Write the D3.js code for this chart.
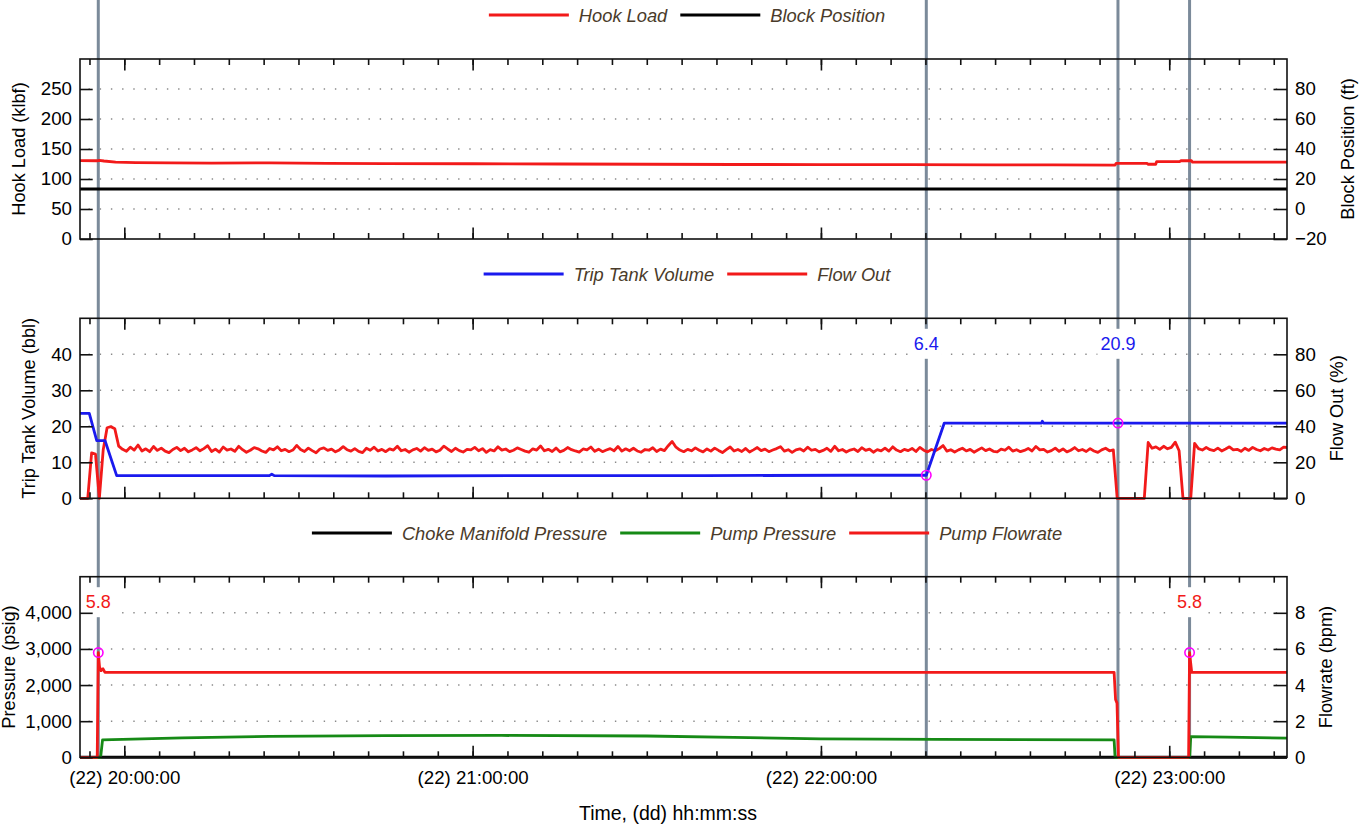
<!DOCTYPE html>
<html>
<head>
<meta charset="utf-8">
<script src="https://cdn.jsdelivr.net/npm/d3@7"></script>
<style>
  body { margin: 0; background: #ffffff; }
  svg { display: block; font-family: "Liberation Sans", Arial, Helvetica, sans-serif; }
</style>
</head>
<body>
<svg id="chart" width="1364" height="829"></svg>
<script>
// ---- time base -------------------------------------------------------------
const dayOfMonth = "22";
const timeDomain = ["19:52:22", "23:20:17"];
const cursorTimes = ["19:55:31", "22:18:09", "22:51:10", "23:03:30"];

// ---- axis ticks ------------------------------------------------------------
const hookLoadTicks = [0, 50, 100, 150, 200, 250];
const blockPosTicks = [-20, 0, 20, 40, 60, 80];
const tripTankTicks = [0, 10, 20, 30, 40];
const flowOutTicks = [0, 20, 40, 60, 80];
const pressureTicks = [0, 1000, 2000, 3000, 4000];
const flowrateTicks = [0, 2, 4, 6, 8];

// ---- series (time, value) --------------------------------------------------
const hookLoad = [
  ["19:52:22", 130.6], ["19:55:20", 130.4], ["19:55:40", 131.0], ["19:56:30", 130.0],
  ["19:58:30", 128.2], ["20:02:00", 127.4], ["20:08:00", 127.0], ["20:15:00", 126.6],
  ["20:25:00", 126.8], ["20:35:00", 126.0], ["20:45:00", 125.6], ["21:00:00", 125.4],
  ["21:15:00", 125.0], ["21:30:00", 124.6], ["21:45:00", 124.2], ["22:00:00", 124.0],
  ["22:15:00", 123.8], ["22:30:00", 123.6], ["22:40:00", 123.4], ["22:50:40", 123.2],
  ["22:50:50", 126.0], ["22:56:10", 126.0], ["22:56:20", 124.6], ["22:57:40", 124.6],
  ["22:57:50", 129.0], ["23:01:50", 129.0], ["23:02:00", 130.6], ["23:03:50", 130.4],
  ["23:04:00", 128.2], ["23:12:00", 128.0], ["23:20:17", 128.0]
];
const blockPosition = [["19:52:22", 13.3], ["23:20:17", 13.3]];

const tripTankVolume = [
  ["19:52:22", 23.6], ["19:53:58", 23.6], ["19:55:15", 16.0], ["19:56:41", 16.0],
  ["19:58:41", 6.3], ["20:10:00", 6.3], ["20:25:00", 6.3], ["20:25:24", 6.7],
  ["20:25:50", 6.3], ["20:45:00", 6.2], ["21:10:00", 6.3], ["21:40:00", 6.3],
  ["22:05:00", 6.4], ["22:18:09", 6.4], ["22:21:15", 20.9], ["22:38:00", 20.9],
  ["22:38:08", 21.4], ["22:38:20", 20.9], ["22:51:10", 20.9], ["23:20:17", 20.9]
];

// Flow Out is logged every 40 s from the start of the window
const flowOutStart = "19:52:22";
const flowOutStepSec = 40;
const flowOut = [
  0, 0, 0, 25.2, 24.6, 0, 27.0, 39.2, 39.8, 38.6,
  29.0, 27.2, 26.1, 28.4, 26.8, 29.6, 26.3, 27.5, 25.9, 28.8,
  26.6, 27.9, 26.2, 25.4, 27.1, 28.3, 26.5, 27.8, 25.8, 26.9,
  28.1, 26.4, 27.6, 29.2, 26.0, 27.3, 25.7, 28.5, 26.8, 27.4,
  26.1, 28.9, 27.0, 25.6, 26.7, 28.2, 27.5, 26.3, 25.5, 27.7,
  26.9, 28.6, 26.4, 27.2, 25.9, 26.8, 29.4, 27.1, 26.0, 27.9,
  26.5, 25.3, 27.4, 28.0, 26.6, 27.3, 25.8, 26.9, 28.7, 27.0,
  26.2, 27.6, 26.1, 25.4, 27.8, 26.7, 28.4, 26.3, 27.2, 25.9,
  27.5, 26.8, 28.9, 26.4, 27.1, 25.6, 26.9, 27.7, 26.2, 28.1,
  26.6, 27.3, 25.8, 26.7, 29.0, 27.4, 26.0, 27.8, 26.5, 25.7,
  27.2, 26.9, 28.3, 26.4, 27.6, 25.5, 27.0, 26.3, 28.6, 26.8,
  27.4, 25.9, 26.7, 28.0, 27.1, 26.2, 25.6, 27.5, 26.8, 29.1,
  26.4, 27.2, 26.0, 27.9, 25.8, 26.6, 28.2, 27.0, 26.3, 25.7,
  27.4, 26.9, 28.5, 26.1, 27.3, 25.9, 26.8, 27.6, 26.4, 28.8,
  26.2, 27.5, 26.4, 27.8, 26.3, 25.6, 27.1, 26.7, 28.1, 26.0,
  27.3, 26.5, 29.2, 31.6, 28.4, 26.8, 25.9, 27.2, 26.4, 28.0,
  26.7, 25.8, 27.4, 26.2, 27.9, 26.6, 25.4, 27.0, 28.5, 26.3,
  27.1, 26.0, 27.7, 25.7, 26.9, 28.2, 26.5, 27.3, 25.9, 26.8,
  27.6, 28.7, 26.2, 27.0, 25.5, 26.9, 27.5, 26.3, 28.4, 26.7,
  27.2, 25.8, 26.6, 27.8, 26.1, 28.9, 26.4, 27.1, 25.7, 26.8,
  27.4, 26.0, 28.1, 26.6, 27.3, 25.6, 27.0, 26.4, 27.9, 26.2,
  28.6, 26.8, 25.9, 27.2, 26.5, 27.7, 26.0, 28.3, 26.7, 25.8,
  27.1, 26.4, 27.6, 29.3, 26.2, 27.0, 25.7, 26.9, 27.8, 26.3,
  27.2, 25.6, 26.8, 28.0, 26.5, 27.4, 26.1, 25.8, 27.3, 26.7,
  28.4, 26.2, 27.0, 25.9, 26.6, 27.7, 26.3, 28.8, 26.9, 27.2,
  25.7, 26.5, 27.9, 26.1, 27.4, 25.8, 26.7, 28.2, 26.4, 27.1,
  26.0, 27.6, 26.3, 25.5, 26.9, 27.8, 26.4, 26.9, 0, 0,
  0, 0, 0, 0, 0, 0, 31.0, 27.8, 28.6, 27.2,
  28.9, 27.5, 28.3, 31.2, 26.4, 0, 0, 0, 30.5, 27.6,
  26.8, 28.2, 27.0, 26.5, 27.9, 26.3, 27.4, 28.6, 26.9, 27.2,
  26.1, 27.8, 26.6, 28.3, 27.1, 26.4, 27.7, 26.8, 28.0, 27.3,
  26.9, 28.4, 28.2
];

const chokePressure = [["19:52:22", 0], ["23:20:17", 0]];
const pumpPressure = [
  ["19:52:22", 0], ["19:55:55", 0], ["19:56:15", 480], ["20:10:00", 540],
  ["20:25:00", 580], ["20:45:00", 600], ["21:05:00", 605], ["21:30:00", 590],
  ["21:45:00", 550], ["22:00:00", 510], ["22:20:00", 495], ["22:50:30", 482],
  ["22:50:40", 0], ["23:03:32", 0], ["23:03:42", 575], ["23:10:00", 560],
  ["23:20:17", 530]
];
const pumpFlowrate = [
  ["19:52:22", 0], ["19:55:20", 0], ["19:55:31", 5.8], ["19:55:44", 5.0],
  ["19:55:59", 4.8], ["19:56:20", 4.9], ["19:56:40", 4.7], ["22:50:30", 4.7],
  ["22:50:45", 3.2], ["22:51:00", 3.0], ["22:51:15", 0], ["23:03:20", 0],
  ["23:03:30", 5.8], ["23:03:52", 4.7], ["23:20:17", 4.7]
];

// ---- helpers ---------------------------------------------------------------
const parseT = d3.timeParse("%d %H:%M:%S");
const T = s => parseT(dayOfMonth + " " + s);
const toPoints = arr => arr.map(d => [T(d[0]), d[1]]);
const flowOutPoints = flowOut.map((v, i) =>
  [new Date(T(flowOutStart).getTime() + i * flowOutStepSec * 1000), v]);

const COLORS = {
  red: "#f21a1a", blue: "#1a1aee", green: "#168a16", black: "#000000",
  cursor: "#7b8a9a", marker: "#ff00ff", legendText: "#4a3b2a", text: "#000000"
};
const FONT = { tick: 18.7, legend: 18.3, title: 18.2, timeTitle: 19.5, value: 18 };

const svg = d3.select("#chart");
const plotLeft = 80, plotRight = 1287;
const x = d3.scaleTime().domain(timeDomain.map(T)).range([plotLeft, plotRight]);

const panels = [
  {
    top: 59, bottom: 239, left: [0, 300], right: [-20, 100],
    leftTicks: hookLoadTicks, rightTicks: blockPosTicks,
    leftFmt: d3.format("d"), rightFmt: d3.format("d"),
    leftTitle: "Hook Load (klbf)", rightTitle: "Block Position (ft)",
    leftTitleX: 18.5, rightTitleX: 1348, legendY: 15,
    series: [
      { name: "Hook Load", data: toPoints(hookLoad), axis: "left", color: COLORS.red },
      { name: "Block Position", data: toPoints(blockPosition), axis: "right", color: COLORS.black }
    ]
  },
  {
    top: 318.3, bottom: 498.3, left: [0, 50], right: [0, 100],
    leftTicks: tripTankTicks, rightTicks: flowOutTicks,
    leftFmt: d3.format("d"), rightFmt: d3.format("d"),
    leftTitle: "Trip Tank Volume (bbl)", rightTitle: "Flow Out (%)",
    leftTitleX: 28.5, rightTitleX: 1337, legendY: 274,
    series: [
      { name: "Trip Tank Volume", data: toPoints(tripTankVolume), axis: "left", color: COLORS.blue },
      { name: "Flow Out", data: flowOutPoints, axis: "right", color: COLORS.red }
    ],
    drawOrder: [1, 0]
  },
  {
    top: 576.7, bottom: 757.3, left: [0, 5000], right: [0, 10],
    leftTicks: pressureTicks, rightTicks: flowrateTicks,
    leftFmt: d3.format(","), rightFmt: d3.format("d"),
    leftTitle: "Pressure (psig)", rightTitle: "Flowrate (bpm)",
    leftTitleX: 9, rightTitleX: 1326, legendY: 533,
    series: [
      { name: "Choke Manifold Pressure", data: toPoints(chokePressure), axis: "left", color: COLORS.black },
      { name: "Pump Pressure", data: toPoints(pumpPressure), axis: "left", color: COLORS.green },
      { name: "Pump Flowrate", data: toPoints(pumpFlowrate), axis: "right", color: COLORS.red }
    ]
  }
];

// value markers at the cursors: [panel index, series index, cursor index]
const markers = [[2, 2, 0], [1, 0, 1], [1, 0, 2], [2, 2, 3]];

panels.forEach(p => {
  p.yL = d3.scaleLinear().domain(p.left).range([p.bottom, p.top]);
  p.yR = d3.scaleLinear().domain(p.right).range([p.bottom, p.top]);
});

const defs = svg.append("defs");
panels.forEach((p, i) => {
  defs.append("clipPath").attr("id", "clip" + i)
    .append("rect")
    .attr("x", plotLeft).attr("y", p.top - 3)
    .attr("width", plotRight - plotLeft).attr("height", p.bottom - p.top + 6);
});

// ---- grid ------------------------------------------------------------------
panels.forEach(p => {
  svg.append("g").selectAll("line")
    .data(p.leftTicks.filter(v => v !== p.left[0]))
    .join("line")
    .attr("x1", plotLeft).attr("x2", plotRight)
    .attr("y1", d => p.yL(d)).attr("y2", d => p.yL(d))
    .attr("stroke", "#8a8a8a").attr("stroke-width", 1.4)
    .attr("stroke-dasharray", "1.4 9.8").attr("stroke-dashoffset", -8.5);
});

// ---- cursor lines ----------------------------------------------------------
svg.append("g").selectAll("line")
  .data(cursorTimes.map(T))
  .join("line")
  .attr("x1", d => x(d)).attr("x2", d => x(d))
  .attr("y1", 0).attr("y2", panels[2].bottom)
  .attr("stroke", COLORS.cursor).attr("stroke-width", 3);

// ---- value labels (white backing box interrupts the cursor) ---------------
const markerLayer = svg.append("g");
markers.forEach(([pi, si, ci]) => {
  const p = panels[pi];
  const s = p.series[si];
  const t = T(cursorTimes[ci]);
  const hit = s.data.find(d => +d[0] === +t);
  const g = markerLayer.append("g");
  const txt = g.append("text")
    .attr("x", x(t)).attr("y", p.top + 25.5)
    .attr("text-anchor", "middle").attr("dominant-baseline", "central")
    .attr("font-size", FONT.value).attr("fill", s.color)
    .text(d3.format(".1f")(hit[1]));
  const bb = txt.node().getBBox();
  g.insert("rect", "text")
    .attr("x", bb.x - 3).attr("y", bb.y - 5)
    .attr("width", bb.width + 6).attr("height", bb.height + 10)
    .attr("fill", "#ffffff");
  s.marker = s.marker || [];
  s.marker.push([t, hit[1]]);
});

// ---- series ----------------------------------------------------------------
panels.forEach((p, i) => {
  const g = svg.append("g").attr("clip-path", `url(#clip${i})`);
  const order = p.drawOrder || p.series.map((_, k) => k);
  order.forEach(k => {
    const s = p.series[k];
    const yS = s.axis === "left" ? p.yL : p.yR;
    const line = d3.line().x(d => x(d[0])).y(d => yS(d[1]));
    g.append("path").datum(s.data)
      .attr("d", line)
      .attr("fill", "none")
      .attr("stroke", s.color)
      .attr("stroke-width", s.color === COLORS.black ? 3 : 2.8)
      .attr("stroke-linejoin", "round");
  });
});

// ---- frames, axes ----------------------------------------------------------
const minorTicks = d3.timeMinute.every(6).range(x.domain()[0], x.domain()[1]);
const majorTicks = minorTicks.filter(d => d.getMinutes() === 0);
const fmtTime = d3.timeFormat("(%d) %H:%M:%S");

panels.forEach((p, i) => {
  svg.append("rect")
    .attr("x", plotLeft).attr("y", p.top)
    .attr("width", plotRight - plotLeft).attr("height", p.bottom - p.top)
    .attr("fill", "none").attr("stroke", "#111").attr("stroke-width", 1.6);

  const yl = svg.append("g").attr("transform", `translate(${plotLeft},0)`)
    .call(d3.axisLeft(p.yL).tickValues(p.leftTicks).tickFormat(p.leftFmt)
      .tickSize(-12.7).tickPadding(8));
  const yr = svg.append("g").attr("transform", `translate(${plotRight},0)`)
    .call(d3.axisRight(p.yR).tickValues(p.rightTicks).tickFormat(p.rightFmt)
      .tickSize(-13.5).tickPadding(8));

  const xMinorB = svg.append("g").attr("transform", `translate(0,${p.bottom})`)
    .call(d3.axisBottom(x).tickValues(minorTicks).tickSize(-6).tickFormat(""));
  const xMinorT = svg.append("g").attr("transform", `translate(0,${p.top})`)
    .call(d3.axisTop(x).tickValues(minorTicks).tickSize(-6).tickFormat(""));
  const xMajorT = svg.append("g").attr("transform", `translate(0,${p.top})`)
    .call(d3.axisTop(x).tickValues(majorTicks).tickSize(-11.5).tickFormat(""));
  const xMajorB = svg.append("g").attr("transform", `translate(0,${p.bottom})`)
    .call(d3.axisBottom(x).tickValues(majorTicks).tickSize(-11.5).tickPadding(13)
      .tickFormat(i === 2 ? fmtTime : ""));

  [yl, yr, xMinorB, xMinorT, xMajorT, xMajorB].forEach(a => {
    a.select(".domain").remove();
    a.selectAll(".tick line").attr("stroke", "#111").attr("stroke-width", 1.6);
    a.selectAll(".tick text").attr("font-size", FONT.tick).attr("fill", COLORS.text)
      .attr("font-family", "'Liberation Sans', Arial, sans-serif");
  });

  const midY = (p.top + p.bottom) / 2;
  svg.append("text")
    .attr("transform", `translate(${p.leftTitleX},${midY}) rotate(-90)`)
    .attr("text-anchor", "middle").attr("dominant-baseline", "central")
    .attr("font-size", FONT.title).attr("fill", COLORS.text).text(p.leftTitle);
  svg.append("text")
    .attr("transform", `translate(${p.rightTitleX},${midY}) rotate(-90)`)
    .attr("text-anchor", "middle").attr("dominant-baseline", "central")
    .attr("font-size", FONT.title).attr("fill", COLORS.text).text(p.rightTitle);

  // legend centred over the plot
  const lg = svg.append("g");
  let cx = 0;
  p.series.forEach(s => {
    lg.append("line").attr("x1", cx).attr("x2", cx + 80)
      .attr("y1", p.legendY).attr("y2", p.legendY)
      .attr("stroke", s.color).attr("stroke-width", 3);
    cx += 90;
    const t = lg.append("text").attr("x", cx).attr("y", p.legendY)
      .attr("dominant-baseline", "central")
      .attr("font-size", FONT.legend).attr("font-style", "italic")
      .attr("fill", COLORS.legendText).text(s.name);
    cx += t.node().getComputedTextLength() + 13;
  });
  const total = cx - 13;
  lg.attr("transform", `translate(${687 - total / 2},0)`);
});

// ---- marker circles --------------------------------------------------------
panels.forEach(p => {
  p.series.forEach(s => {
    if (!s.marker) return;
    const yS = s.axis === "left" ? p.yL : p.yR;
    svg.append("g").selectAll("circle").data(s.marker).join("circle")
      .attr("cx", d => x(d[0])).attr("cy", d => yS(d[1])).attr("r", 4.7)
      .attr("fill", "none").attr("stroke", COLORS.marker).attr("stroke-width", 1.6);
  });
});

// ---- time axis title -------------------------------------------------------
svg.append("text")
  .attr("x", 668).attr("y", 820)
  .attr("text-anchor", "middle").attr("font-size", FONT.timeTitle).attr("fill", COLORS.text)
  .text("Time, (dd) hh:mm:ss");
</script>
</body>
</html>
